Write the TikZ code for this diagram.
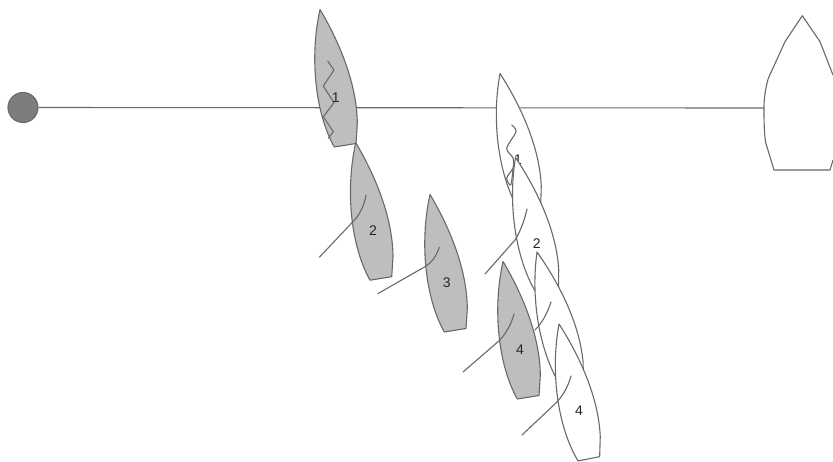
\documentclass[tikz,border=0pt]{standalone}
\usepackage{fontspec}
\setmainfont{Liberation Sans}
\definecolor{hullgray}{RGB}{190,190,190}
\definecolor{markgray}{RGB}{125,125,125}
\definecolor{linegray}{RGB}{105,105,105}
\tikzset{
  outline/.style={draw=linegray, line width=1.1pt, line join=round},
  sailline/.style={outline, line cap=round},
  num/.style={font=\fontsize{14}{15}\selectfont, text=black!85, inner sep=0pt},
  markbuoy/.style={circle, outline, fill=markgray, minimum size=30pt, inner sep=0pt},
  pics/hull/.style={code={
    \draw[outline, fill=#1] (0,0) .. controls (15,25) and (37,70) .. (37.3,114)
      -- (36,134) -- (14.3,137.5) .. controls (-4,105) and (-11,50) .. (0,0) -- cycle;
  }}
}
\begin{document}
\begin{tikzpicture}[x=1pt, y=-1pt]
\useasboundingbox (0,0) rectangle (833,461);
% start line
\node[markbuoy] (buoy) at (23,107.5) {};
\coordinate (stbd) at (764,108);
\draw[outline] (buoy) -- (stbd);
\draw[outline] (833,75) -- (820,41.7) -- (802.3,15.7) -- (785,41.7) -- (768.3,78.3)
  .. controls (765,90) and (764,100) .. (stbd)
  .. controls (764,120) and (764,130) .. (765.5,142) -- (774,170) -- (830,170) -- (833,160);
% white boats
\pic at (500,73.5) [rotate=2] {hull=white};
\draw[sailline] plot[smooth, tension=0.5] coordinates {(511.7,125) (516,131.7) (506.7,148.3) (513,158) (513,168) (506.7,178) (510.7,185) (513,170)};
\node[num] (w1) at (518,160) {1};
\pic at (515.5,157.5) [rotate=3] {hull=white};
\draw[sailline] (527,209) .. controls (524,222) and (520,232) .. (515,240) -- (485,274);
\node[num] (w2) at (536.7,244) {2};
\pic at (537,252) [rotate=4.5] {hull=white};
\draw[sailline] (551,302) .. controls (547,314) and (542,323) .. (535,330);
\pic at (559,324) [rotate=2] {hull=white};
\draw[sailline] (571,376) .. controls (568,387) and (563,395) .. (557,402) -- (522,435);
\node[num] (w4) at (579,411) {4};
% gray boats
\pic at (320,9.5) {hull=hullgray};
\draw[sailline] (327.7,61) -- (334,70) -- (323.3,86) -- (334,102.7) -- (323.3,116.7) -- (333.3,131.7) -- (328.3,138.3);
\node[num] (g1) at (335.7,97.7) {1};
\pic at (355.7,142.7) {hull=hullgray};
\draw[sailline] (366,195) .. controls (364,207) and (359,216) .. (351.7,223) -- (319.3,257.3);
\node[num] (g2) at (373,231) {2};
\pic at (430,194.5) {hull=hullgray};
\draw[sailline] (439.3,247.3) .. controls (436,257) and (431,263) .. (425,266.7) -- (377.7,293.7);
\node[num] (g3) at (446.7,283) {3};
\pic at (503,261.5) {hull=hullgray};
\draw[sailline] (514,314) .. controls (511,325) and (506,333) .. (500,340) -- (463,372);
\node[num] (g4) at (520,350) {4};
\end{tikzpicture}
\end{document}
